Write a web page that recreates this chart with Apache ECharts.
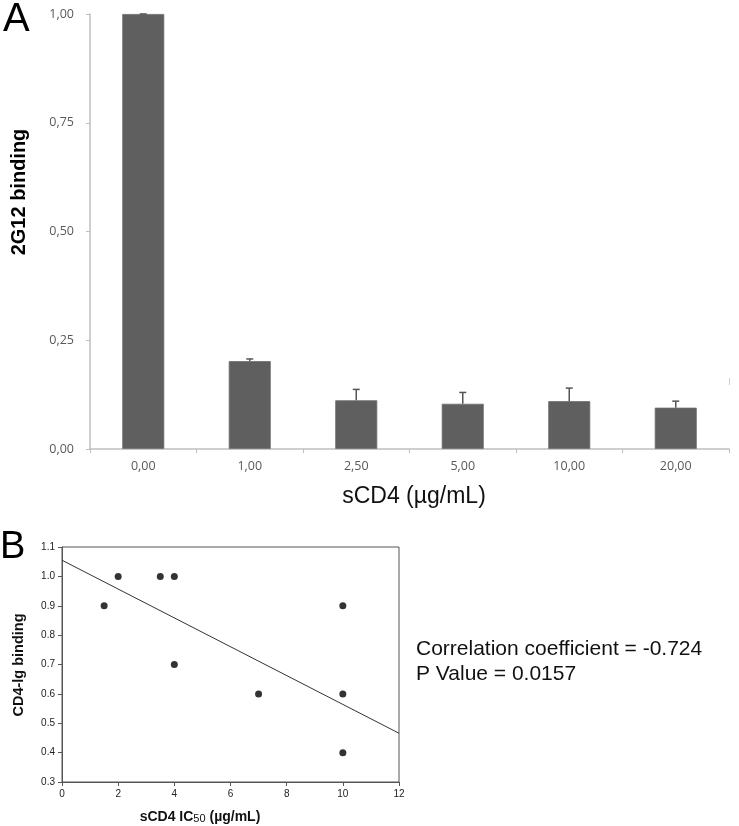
<!DOCTYPE html>
<html>
<head>
<meta charset="utf-8">
<script src="https://cdn.jsdelivr.net/npm/echarts@6/dist/echarts.min.js"></script>
<style>
html,body{margin:0;padding:0;background:#fff;}
#chart{width:739px;height:826px;}
</style>
</head>
<body>
<div id="chart"></div>
<script>
// Panel A data
const concLabels = ['0,00', '1,00', '2,50', '5,00', '10,00', '20,00'];
const bindingMean = [1.0, 0.202, 0.112, 0.104, 0.110, 0.095];
const bindingUpper = [1.0, 0.207, 0.137, 0.130, 0.140, 0.110];
const yTicksA = [0, 0.25, 0.5, 0.75, 1.0];

// Panel B data
const ic50 = [1.5, 2, 3.5, 4, 4, 7, 10, 10, 10];
const cd4Binding = [0.9, 1.0, 1.0, 1.0, 0.7, 0.6, 0.9, 0.6, 0.4];
const fitLine = [[0, 1.055], [12, 0.466]];
const statsText = ['Correlation coefficient = -0.724', 'P Value = 0.0157'];

const chart = echarts.init(document.getElementById('chart'), null, {renderer: 'canvas'});

const errData = bindingMean.map((v, i) => [i, v, bindingUpper[i]]);
const scatterData = ic50.map((x, i) => [x, cd4Binding[i]]);

const labelFontA = '"Open Sans", "Liberation Sans", sans-serif';
const arial = '"Liberation Sans", Arial, sans-serif';

const option = {
  backgroundColor: '#fff',
  animation: false,
  grid: [
    {left: 90, top: 14, width: 639, height: 435, containLabel: false},
    {left: 62, top: 547, width: 337, height: 235, containLabel: false,
     show: true, borderColor: '#555', borderWidth: 1, backgroundColor: 'transparent'}
  ],
  xAxis: [
    {
      type: 'category', gridIndex: 0, data: concLabels, boundaryGap: true,
      axisLine: {show: true, lineStyle: {color: '#bfbfbf', width: 1.5}},
      axisTick: {show: true, length: 4, inside: false, alignWithLabel: false, lineStyle: {color: '#bfbfbf'}},
      axisLabel: {color: '#595959', fontFamily: labelFontA, fontSize: 12.5, margin: 11},
      splitLine: {show: false}
    },
    {
      type: 'value', gridIndex: 1, min: 0, max: 12, interval: 2,
      axisLine: {show: true, lineStyle: {color: '#555', width: 1}},
      axisTick: {show: true, length: 4, inside: false, lineStyle: {color: '#555'}},
      axisLabel: {color: '#222', fontFamily: arial, fontSize: 10, margin: 7},
      splitLine: {show: false}
    }
  ],
  yAxis: [
    {
      type: 'value', gridIndex: 0, min: 0, max: 1, interval: 0.25,
      axisLine: {show: true, lineStyle: {color: '#bfbfbf', width: 1.5}},
      axisTick: {show: true, length: 4, inside: false, lineStyle: {color: '#bfbfbf'}},
      axisLabel: {color: '#595959', fontFamily: labelFontA, fontSize: 12.5, margin: 16,
        formatter: v => v.toFixed(2).replace('.', ',')},
      splitLine: {show: false}
    },
    {
      type: 'value', gridIndex: 1, min: 0.3, max: 1.1, interval: 0.1,
      axisLine: {show: true, lineStyle: {color: '#555', width: 1}},
      axisTick: {show: true, length: 4, inside: false, lineStyle: {color: '#555'}},
      axisLabel: {color: '#222', fontFamily: arial, fontSize: 10, margin: 7,
        formatter: v => (Math.round(v * 10) / 10).toFixed(1)},
      splitLine: {show: false}
    }
  ],
  series: [
    {
      type: 'bar', xAxisIndex: 0, yAxisIndex: 0, data: bindingMean, barWidth: 42,
      itemStyle: {color: '#5f5f5f', borderColor: '#6e6e6e', borderWidth: 0.8}
    },
    {
      type: 'custom', xAxisIndex: 0, yAxisIndex: 0, data: errData, z: 5,
      renderItem: function (params, api) {
        const i = api.value(0);
        const p0 = api.coord([i, api.value(1)]);
        const p1 = api.coord([i, api.value(2)]);
        const st = {stroke: '#555', lineWidth: 1.5};
        return {
          type: 'group',
          children: [
            {type: 'line', shape: {x1: p0[0], y1: p0[1], x2: p1[0], y2: p1[1]}, style: st},
            {type: 'line', shape: {x1: p1[0] - 3.5, y1: p1[1], x2: p1[0] + 3.5, y2: p1[1]}, style: st}
          ]
        };
      }
    },
    {
      type: 'line', xAxisIndex: 1, yAxisIndex: 1, data: fitLine, symbol: 'none',
      lineStyle: {color: '#333', width: 1}, z: 3
    },
    {
      type: 'scatter', xAxisIndex: 1, yAxisIndex: 1, data: scatterData, symbolSize: 7,
      itemStyle: {color: '#000'}, z: 4
    }
  ],
  graphic: [
    {type: 'text', left: 3, top: 0, style: {text: 'A', font: '40px "Liberation Sans", Arial, sans-serif', fill: '#000'}},
    {type: 'text', left: 0, top: 529, style: {text: 'B', font: '38px "Liberation Sans", Arial, sans-serif', fill: '#000'}},
    {type: 'text', x: 19, y: 192, rotation: Math.PI / 2,
      style: {text: '2G12 binding', font: 'bold 20px "Liberation Sans", Arial, sans-serif', fill: '#000', align: 'center', verticalAlign: 'middle'}},
    {type: 'text', x: 414, y: 497,
      style: {text: 'sCD4 (µg/mL)', font: '23px "Liberation Sans", Arial, sans-serif', fill: '#111', align: 'center', verticalAlign: 'middle'}},
    {type: 'text', x: 19, y: 665, rotation: Math.PI / 2,
      style: {text: 'CD4-lg binding', font: 'bold 14.5px "Liberation Sans", Arial, sans-serif', fill: '#111', align: 'center', verticalAlign: 'middle'}},
    {type: 'text', x: 200, y: 817,
      style: {
        text: '{b|sCD4 IC}{s|50}{b| (µg/mL)}', align: 'center', verticalAlign: 'middle',
        rich: {
          b: {fontFamily: arial, fontWeight: 'bold', fontSize: 14, fill: '#111', color: '#111'},
          s: {fontFamily: arial, fontSize: 11, fill: '#111', color: '#111', padding: [3, 0, 0, 0]}
        }
      }},
    {type: 'text', x: 416, y: 649,
      style: {text: statsText[0], font: '21px "Liberation Sans", Arial, sans-serif', fill: '#111', align: 'left', verticalAlign: 'middle'}},
    {type: 'text', x: 416, y: 674,
      style: {text: statsText[1], font: '21px "Liberation Sans", Arial, sans-serif', fill: '#111', align: 'left', verticalAlign: 'middle'}},
    {type: 'line', shape: {x1: 729.5, y1: 378, x2: 729.5, y2: 385}, style: {stroke: '#d0d0d0', lineWidth: 1}}
  ]
};
chart.setOption(option);
</script>
</body>
</html>
